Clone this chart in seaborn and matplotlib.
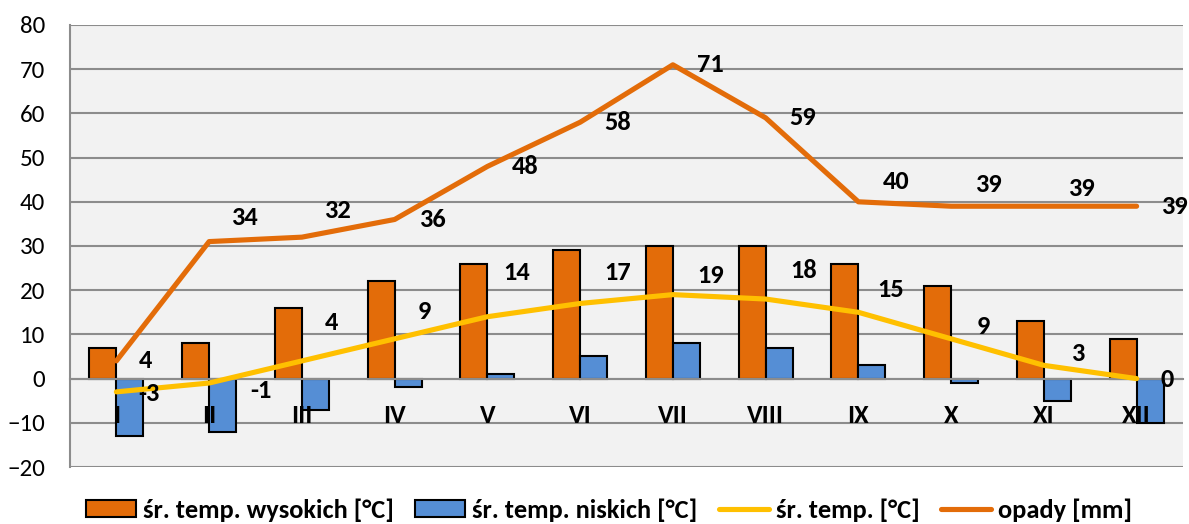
# Klimatogram: temperatury i opady

import numpy as np
import pandas as pd
import matplotlib.pyplot as plt
import seaborn as sns

months = ['I', 'II', 'III', 'IV', 'V', 'VI', 'VII', 'VIII', 'IX', 'X', 'XI', 'XII']
temp_high = [7, 8, 16, 22, 26, 29, 30, 30, 26, 21, 13, 9]
temp_low = [-13, -12, -7, -2, 1, 5, 8, 7, 3, -1, -5, -10]
temp_avg = [-3, -1, 4, 9, 14, 17, 19, 18, 15, 9, 3, 0]
rain = [4, 31, 32, 36, 48, 58, 71, 59, 40, 39, 39, 39]
rain_labels = ['4', '34', '32', '36', '48', '58', '71', '59', '40', '39', '39', '39']
temp_avg_labels = ['-3', '-1', '4', '9', '14', '17', '19', '18', '15', '9', '3', '0']

# label offsets in pixels (as placed in the original chart)
rain_dx = [22, 22, 22, 24, 24, 24, 24, 24, 24, 24, 24, 24]
rain_dy = [0, 24, 27, 0, 0, 0, 0, 0, 20, 22, 18, 0]
avg_dx = [22, 41, 23, 23, 16, 24, 24, 25, 19, 26, 27, 24]
avg_dy = [-2, -7, 38, 27, 44, 31, 19, 29, 23, 12, 12, -1]

orange = '#E36C09'
blue = '#558ED5'
yellow = '#FFC000'
grid_gray = '#8C8C8C'

sns.set_style('white')
plt.rcParams['font.family'] = ['Carlito', 'DejaVu Sans']
plt.rcParams['text.color'] = 'black'
plt.rcParams['xtick.color'] = 'black'
plt.rcParams['ytick.color'] = 'black'

bars = pd.DataFrame({
    'miesiac': months * 2,
    'temp': temp_high + temp_low,
    'seria': ['śr. temp. wysokich [°C]'] * 12 + ['śr. temp. niskich [°C]'] * 12,
})

fig = plt.figure(figsize=(11.89, 5.24), dpi=100)
ax = fig.add_axes([70 / 1189, 1 - 467 / 524, (1183 - 70) / 1189, (467 - 25) / 524])
ax.set_facecolor('#F2F2F2')

sns.barplot(data=bars, x='miesiac', y='temp', hue='seria', palette=[orange, blue],
            width=0.58, edgecolor='black', linewidth=1.5, saturation=1,
            errorbar=None, ax=ax, zorder=2)
sns.lineplot(x=np.arange(12), y=temp_avg, color=yellow, linewidth=3.7,
             ax=ax, label='śr. temp. [°C]', zorder=4)
sns.lineplot(x=np.arange(12), y=rain, color=orange, linewidth=3.7,
             ax=ax, label='opady [mm]', zorder=5)

# data labels
for i in range(12):
    ax.annotate(rain_labels[i], (i, rain[i]), xytext=(rain_dx[i], rain_dy[i]),
                textcoords='offset pixels', ha='left', va='center',
                fontsize=19, fontweight='bold', zorder=6)
    ax.annotate(temp_avg_labels[i], (i, temp_avg[i]), xytext=(avg_dx[i], avg_dy[i]),
                textcoords='offset pixels', ha='left', va='center',
                fontsize=19, fontweight='bold', zorder=6)

ax.set_xlim(-0.5, 11.5)
ax.set_ylim(-20, 80)
ax.set_yticks(range(-20, 81, 10))
ax.grid(axis='y', color=grid_gray, linewidth=1.5)
ax.set_axisbelow(True)
ax.xaxis.set_zorder(7)  # month names above the bars
ax.set_xlabel('')
ax.set_ylabel('')

# x axis crossing at zero, like Excel
ax.spines['bottom'].set_position(('data', 0))
ax.spines['bottom'].set_color(grid_gray)
ax.spines['bottom'].set_linewidth(1.5)
ax.spines['left'].set_color(grid_gray)
ax.spines['left'].set_linewidth(1.5)
ax.spines['top'].set_visible(False)
ax.spines['right'].set_visible(False)

ax.set_xticks(np.arange(12))
ax.set_xticklabels(months)
ax.set_xticks(np.arange(-0.5, 12, 1), minor=True)
ax.tick_params(axis='x', which='major', length=0, pad=18, labelsize=19)
ax.tick_params(axis='x', which='minor', length=6, width=1.5, color=grid_gray, direction='out')
ax.tick_params(axis='y', length=6, width=1.5, color=grid_gray, labelcolor='black', pad=12, labelsize=18)
for lbl in ax.get_xticklabels():
    lbl.set_fontweight('bold')

handles, labels = ax.get_legend_handles_labels()
ax.get_legend().remove()
fig.legend(handles, labels, loc='center', bbox_to_anchor=(0.512, 0.027), ncol=4,
           frameon=False, prop={'size': 19, 'weight': 'bold'},
           handlelength=1.9, handleheight=0.6, handletextpad=0.27, columnspacing=0.8)

plt.savefig('out.png', dpi=100)
